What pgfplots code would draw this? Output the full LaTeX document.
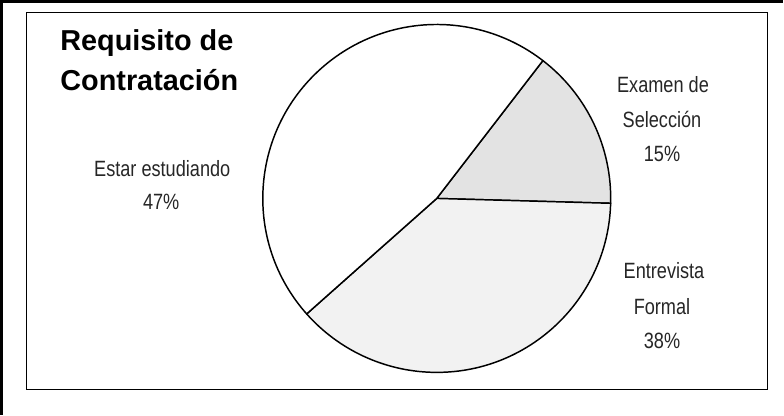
\documentclass[border=0pt]{standalone}
\usepackage{pgfplots}
\pgfplotsset{compat=1.18}
\usepackage{fontspec}
\setmainfont{Liberation Sans}
\newfontfamily\narrowfont[FakeStretch=0.82]{Liberation Sans}

% pie values (percent) and start angle of the first slice
\def\vA{15}  % Examen de Seleccion
\def\vB{38}  % Entrevista Formal
\def\vC{47}  % Estar estudiando
\pgfmathsetmacro\aA{52.4}
\pgfmathsetmacro\aB{\aA-3.6*\vA}
\pgfmathsetmacro\aC{\aB-3.6*\vB}
\pgfmathsetmacro\aD{\aC-3.6*\vC}
\def\R{129.75pt}

\begin{document}
\begin{tikzpicture}
\begin{axis}[
width=588pt, height=314.25pt,
scale only axis,
xmin=0, xmax=784,
ymin=0, ymax=419,
y dir=reverse,
hide axis,
clip=false,
]
% outer frame (cut by the picture edge)
\draw[line width=2pt] (axis cs:7,419) -- (axis cs:7,8) -- (axis cs:784,8);
% plot area
\draw[line width=0.9pt] (axis cs:32,19) rectangle (axis cs:769,394);

% slices
\filldraw[fill=gray!22, line width=1.1pt, line join=round]
  (axis cs:440,204) -- ++(\aA:\R) arc[start angle=\aA, end angle=\aB, radius=\R] -- cycle;
\filldraw[fill=gray!10, line width=1.1pt, line join=round]
  (axis cs:440,204) -- ++(\aB:\R) arc[start angle=\aB, end angle=\aC, radius=\R] -- cycle;
\filldraw[fill=white, line width=1.1pt, line join=round]
  (axis cs:440,204) -- ++(\aC:\R) arc[start angle=\aC, end angle=\aD, radius=\R] -- cycle;

% title
\node[anchor=base west, font=\fontsize{21.5}{24}\selectfont\bfseries] at (axis cs:61,57) {Requisito de};
\node[anchor=base west, font=\fontsize{21.5}{24}\selectfont\bfseries] at (axis cs:61,97) {Contratación};

% slice labels
\tikzset{lab/.style={anchor=base, text=black!85, font=\narrowfont\fontsize{16.5}{18}\selectfont}}
\node[lab] at (axis cs:665,99) {Examen de};
\node[lab] at (axis cs:664,133) {Selección};
\node[lab] at (axis cs:664,167) {\vA\%};
\node[lab] at (axis cs:666,284) {Entrevista};
\node[lab] at (axis cs:664,319) {Formal};
\node[lab] at (axis cs:664,353) {\vB\%};
\node[lab] at (axis cs:167,182) {Estar estudiando};
\node[lab] at (axis cs:166,215) {\vC\%};
\end{axis}
\end{tikzpicture}
\end{document}
